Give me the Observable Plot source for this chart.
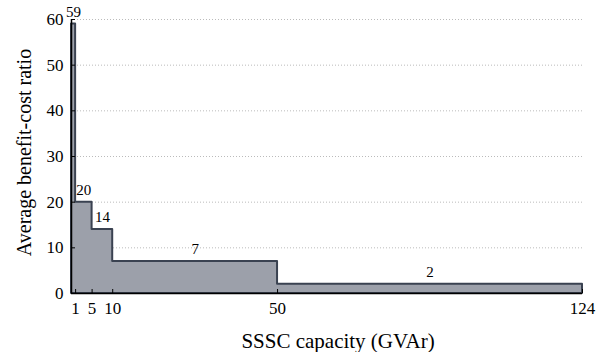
<!DOCTYPE html>
<html><head><meta charset="utf-8">
<script src="https://cdn.jsdelivr.net/npm/d3@7"></script>
<script src="https://cdn.jsdelivr.net/npm/@observablehq/plot@0.6"></script>
<style>body{margin:0;background:#fff;} svg{display:block;}</style>
</head><body><div id="chart"></div>
<script>
const starts = [0, 1, 5, 10, 50];
const ends = [1, 5, 10, 50, 124];
const values = [59, 20, 14, 7, 2];
const xTicks = [1, 5, 10, 50, 124];
const yTicks = [0, 10, 20, 30, 40, 50, 60];
const xTitle = "SSSC capacity (GVAr)";
const yTitle = "Average benefit-cost ratio";

const steps = starts.map((s, i) => ({x: s, y: values[i]}));
steps.push({x: ends[ends.length - 1], y: values[values.length - 1]});
const labels = starts.map((s, i) => ({x: (s + ends[i]) / 2, y: values[i], t: String(values[i])}));

const font = "'Liberation Serif', 'Times New Roman', serif";
const chart = Plot.plot({
  width: 613, height: 352,
  marginLeft: 71, marginRight: 31, marginTop: 19, marginBottom: 59,
  style: {fontFamily: font, fontSize: "17px", background: "#fff", color: "#000"},
  x: {domain: [0, 124]},
  y: {domain: [0, 60]},
  marks: [
    Plot.gridY(yTicks.filter(d => d > 0), {stroke: "#bbb", strokeOpacity: 1, strokeDasharray: "1,2"}),
    Plot.areaY(steps, {x: "x", y: "y", curve: "step-after", fill: "#9ca0aa", stroke: "#3a4251", strokeWidth: 2}),
    Plot.ruleX([0], {stroke: "#000", strokeWidth: 1.5}),
    Plot.ruleY([0], {stroke: "#000", strokeWidth: 1.5}),
    Plot.axisY({ticks: yTicks, tickSize: -4, tickPadding: 12, fontSize: 17, label: null, fontFamily: font}),
    Plot.axisX({ticks: xTicks, tickSize: -4, tickPadding: 12, fontSize: 17, label: null, fontFamily: font}),
    Plot.text([xTitle], {frameAnchor: "bottom", text: d => d, dx: 11, dy: 48, lineAnchor: "middle", fontSize: 21, fontFamily: font, fill: "#000"}),
    Plot.text([yTitle], {frameAnchor: "left", text: d => d, dx: -47, dy: -4, rotate: -90, lineAnchor: "middle", textAnchor: "middle", fontSize: 20, fontFamily: font, fill: "#000"}),
    Plot.text(labels, {x: "x", y: "y", text: "t", dy: -12, fontSize: 15, fontFamily: font, fill: "#000"})
  ]
});
document.getElementById("chart").appendChild(chart);
</script></body></html>
